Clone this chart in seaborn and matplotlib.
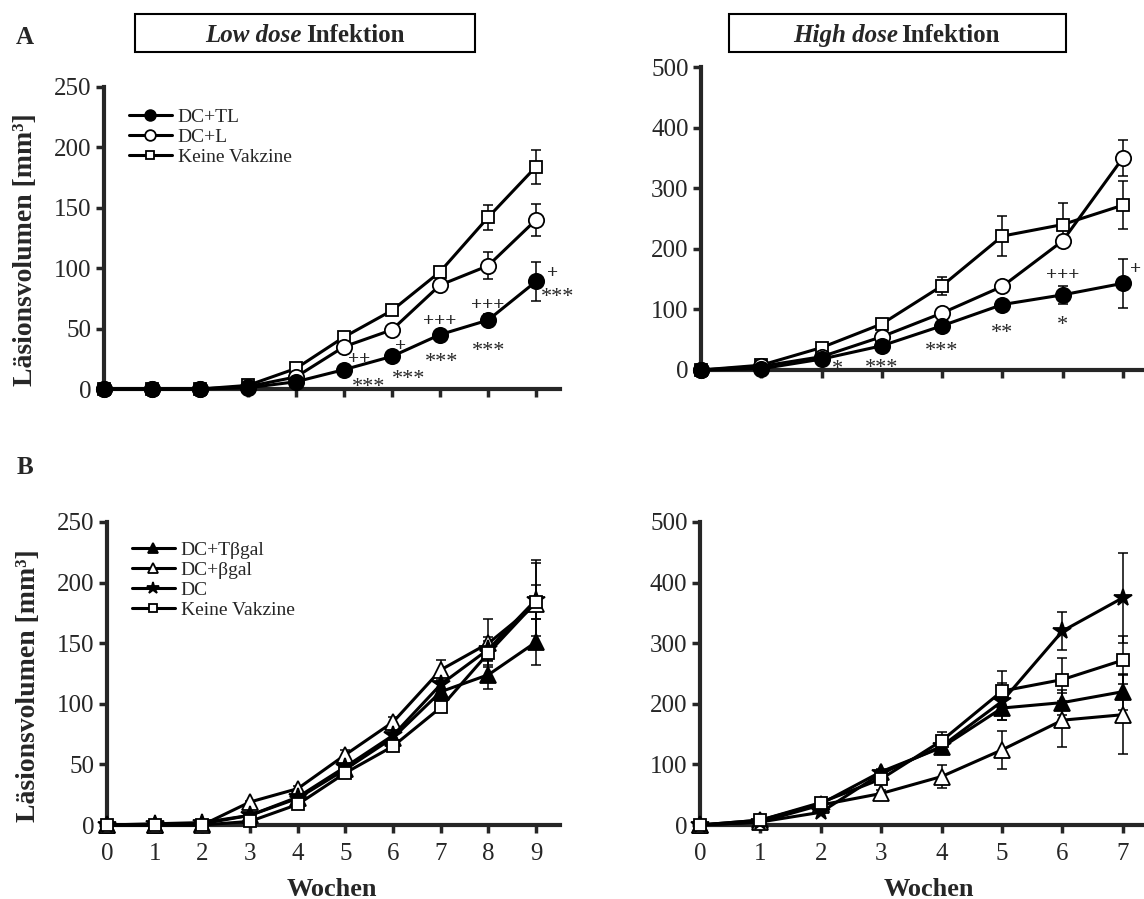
import numpy as np
import pandas as pd
import seaborn as sns
import matplotlib
matplotlib.use('Agg')
import matplotlib.pyplot as plt
from matplotlib.patches import Rectangle

# Wochen
wochen_low = [0, 1, 2, 3, 4, 5, 6, 7, 8, 9]
wochen_high = [0, 1, 2, 3, 4, 5, 6, 7]

# A: Low dose (Mittelwert, SEM)
dc_tl_low = [0, 0, 0, 1, 6, 16, 27, 45, 57, 89]
dc_tl_low_err = [0, 0, 0, 0, 1, 2, 3, 4, 5, 16]
dc_l_low = [0, 0, 0, 2, 10, 35, 49, 86, 102, 140]
dc_l_low_err = [0, 0, 0, 0, 1, 2, 3, 5, 11, 13]
keine_low = [0, 0, 0, 3, 17, 43, 65, 97, 142, 184]
keine_low_err = [0, 0, 0, 0, 1, 2, 3, 4, 10, 14]

# A: High dose
dc_tl_high = [0, 2, 18, 40, 73, 108, 124, 143]
dc_tl_high_err = [0, 0, 2, 3, 4, 8, 15, 40]
dc_l_high = [0, 6, 22, 55, 94, 138, 213, 350]
dc_l_high_err = [0, 0, 2, 3, 5, 5, 8, 30]
keine_high = [0, 8, 37, 76, 139, 221, 240, 272]
keine_high_err = [0, 0, 2, 3, 15, 33, 35, 40]

# B: Low dose
dc_tbgal_low = [0, 0, 1, 8, 22, 46, 72, 110, 124, 151]
dc_tbgal_low_err = [0, 0, 0, 1, 2, 3, 4, 6, 12, 19]
dc_bgal_low = [0, 0, 0, 19, 30, 58, 85, 128, 150, 182]
dc_bgal_low_err = [0, 0, 0, 1, 2, 4, 4, 8, 20, 37]
dc_low = [0, 1, 2, 8, 23, 48, 74, 116, 145, 186]
dc_low_err = [0, 0, 0, 1, 2, 3, 4, 6, 10, 30]

# B: High dose
dc_tbgal_high = [0, 8, 35, 88, 128, 193, 202, 220]
dc_tbgal_high_err = [0, 0, 2, 5, 10, 20, 20, 30]
dc_bgal_high = [0, 5, 33, 52, 80, 124, 173, 182]
dc_bgal_high_err = [0, 0, 2, 5, 19, 31, 44, 65]
dc_high = [0, 5, 21, 85, 130, 204, 320, 375]
dc_high_err = [0, 0, 2, 5, 10, 30, 32, 74]

# Signifikanzen: (Woche, Text, dx px, dy px nach unten)
sig_low = [(5, '++', 15, -11), (5, '***', 25, 10),
           (6, '+', 9, -10), (6, '***', 17, 16),
           (7, '+++', 0, -14), (7, '***', 2, 20),
           (8, '+++', 0, -15), (8, '***', 1, 24),
           (9, '+', 17, -8), (9, '***', 22, 9)]
sig_high = [(2, '*', 16, 3), (3, '***', 0, 15), (4, '***', 0, 18),
            (5, '**', 0, 22), (6, '+++', 0, -20), (6, '*', 0, 23),
            (7, '+', 13, -14)]

sns.set_style('ticks')
plt.rcParams['font.family'] = ['Liberation Serif', 'DejaVu Serif']

fig = plt.figure(figsize=(11.44, 8.99), dpi=100)
W, H = 1144, 899


def px_axes(l, t, r, b):
    return fig.add_axes([l / W, 1 - b / H, (r - l) / W, (b - t) / H])


ax_tl = px_axes(104, 87, 560, 389)
ax_tr = px_axes(701, 67, 1144, 370)
ax_bl = px_axes(107, 522, 560, 825)
ax_br = px_axes(700, 522, 1144, 825)


def draw_series(ax, x, y, err, marker, fc, ms, label):
    idx = [i for i, e in enumerate(err) if e > 0]
    ax.errorbar([x[i] for i in idx], [y[i] for i in idx],
                yerr=[err[i] for i in idx], fmt='none', ecolor='black',
                elinewidth=1.1, capsize=3.5, capthick=1.1, zorder=2,
                clip_on=False)
    sns.lineplot(x=x, y=y, ax=ax, color='black', linewidth=2.2, marker=marker,
                 markersize=ms, markerfacecolor=fc, markeredgecolor='black',
                 markeredgewidth=1.3, label=label, clip_on=False, zorder=3,
                 errorbar=None, sort=False)


def style_axis(ax, xmax, ymax, ystep, xlabels):
    sns.despine(ax=ax)
    for s in ['left', 'bottom']:
        ax.spines[s].set_linewidth(3)
    ax.set_xlim(0, xmax)
    ax.set_ylim(0, ymax)
    ax.set_yticks(np.arange(0, ymax + 1, ystep))
    ax.set_xticks(range(0, int(xmax) + 1))
    ax.tick_params(axis='both', direction='out', length=6, width=2.5,
                   labelsize=18, pad=3)
    ax.tick_params(axis='x', pad=7)
    if not xlabels:
        ax.set_xticklabels([])
    ax.set_xlabel('')
    ax.set_ylabel('')


def add_legend(ax, x0, y0, reverse=False):
    h, l = ax.get_legend_handles_labels()
    if reverse:
        h, l = h[::-1], l[::-1]
    ax.legend(h, l, loc='upper left', bbox_to_anchor=(x0, y0), frameon=False,
              fontsize=14, handlelength=2.2, handletextpad=0.3,
              labelspacing=0.12, borderpad=0, borderaxespad=0, markerscale=0.7)


def add_sig(ax, x, y, items):
    for wk, txt, dx, dy in items:
        yv = y[x.index(wk)]
        if '*' in txt:
            fs, fw, c = 16, 'normal', 8.6
        else:
            fs, fw, c = 14, 'bold', 3.6
        ax.annotate(txt, xy=(wk, yv), xytext=(dx * 0.72, -dy * 0.72 - c),
                    textcoords='offset points', ha='center', va='baseline',
                    fontsize=fs, fontweight=fw, annotation_clip=False)


# A links
draw_series(ax_tl, wochen_low, keine_low, keine_low_err, 's', 'white', 9, 'Keine Vakzine')
draw_series(ax_tl, wochen_low, dc_l_low, dc_l_low_err, 'o', 'white', 11, 'DC+L')
draw_series(ax_tl, wochen_low, dc_tl_low, dc_tl_low_err, 'o', 'black', 11, 'DC+TL')
style_axis(ax_tl, 9.5, 250, 50, False)
add_legend(ax_tl, 0.055, 0.93, reverse=True)
add_sig(ax_tl, wochen_low, dc_tl_low, sig_low)

# A rechts
draw_series(ax_tr, wochen_high, keine_high, keine_high_err, 's', 'white', 9, 'Keine Vakzine')
draw_series(ax_tr, wochen_high, dc_l_high, dc_l_high_err, 'o', 'white', 11, 'DC+L')
draw_series(ax_tr, wochen_high, dc_tl_high, dc_tl_high_err, 'o', 'black', 11, 'DC+TL')
style_axis(ax_tr, 7.35, 500, 100, False)
ax_tr.get_legend().remove()
add_sig(ax_tr, wochen_high, dc_tl_high, sig_high)

# B links
draw_series(ax_bl, wochen_low, dc_tbgal_low, dc_tbgal_low_err, '^', 'black', 11, 'DC+Tβgal')
draw_series(ax_bl, wochen_low, dc_bgal_low, dc_bgal_low_err, '^', 'white', 11, 'DC+βgal')
draw_series(ax_bl, wochen_low, dc_low, dc_low_err, '*', 'black', 13, 'DC')
draw_series(ax_bl, wochen_low, keine_low, keine_low_err, 's', 'white', 9, 'Keine Vakzine')
style_axis(ax_bl, 9.5, 250, 50, True)
add_legend(ax_bl, 0.055, 0.937)

# B rechts
draw_series(ax_br, wochen_high, dc_tbgal_high, dc_tbgal_high_err, '^', 'black', 11, 'DC+Tβgal')
draw_series(ax_br, wochen_high, dc_bgal_high, dc_bgal_high_err, '^', 'white', 11, 'DC+βgal')
draw_series(ax_br, wochen_high, dc_high, dc_high_err, '*', 'black', 13, 'DC')
draw_series(ax_br, wochen_high, keine_high, keine_high_err, 's', 'white', 9, 'Keine Vakzine')
style_axis(ax_br, 7.35, 500, 100, True)
ax_br.get_legend().remove()

# Achsentitel
for ax in [ax_tl, ax_bl]:
    ax.set_ylabel('Läsionsvolumen [mm³]', fontsize=20, fontweight='bold')
    ax.yaxis.set_label_coords(-0.145, 0.46)
ax_bl.set_xlabel('Wochen', fontsize=19, fontweight='bold')
ax_bl.xaxis.set_label_coords(0.497, -0.175)
ax_br.set_xlabel('Wochen', fontsize=19, fontweight='bold')
ax_br.xaxis.set_label_coords(0.515, -0.175)

# Panelbuchstaben
fig.text(25 / W, 1 - 37 / H, 'A', ha='center', va='center', fontsize=18, fontweight='bold')
fig.text(25 / W, 1 - 468 / H, 'B', ha='center', va='center', fontsize=18, fontweight='bold')

# Titelkaesten
for (l, r, tl, tr, word) in [(135, 475, 205, 405, 'Low dose'), (729, 1066, 793, 1000, 'High dose')]:
    fig.add_artist(Rectangle((l / W, 1 - 52 / H), (r - l) / W, 38 / H,
                             transform=fig.transFigure, fill=False, lw=1.5, color='black'))
    fig.text(tl / W, 1 - 42 / H, word, ha='left', va='baseline', fontsize=18,
             fontweight='bold', fontstyle='italic')
    fig.text(tr / W, 1 - 42 / H, 'Infektion', ha='right', va='baseline', fontsize=18,
             fontweight='bold')

fig.savefig('out.png', dpi=100)
